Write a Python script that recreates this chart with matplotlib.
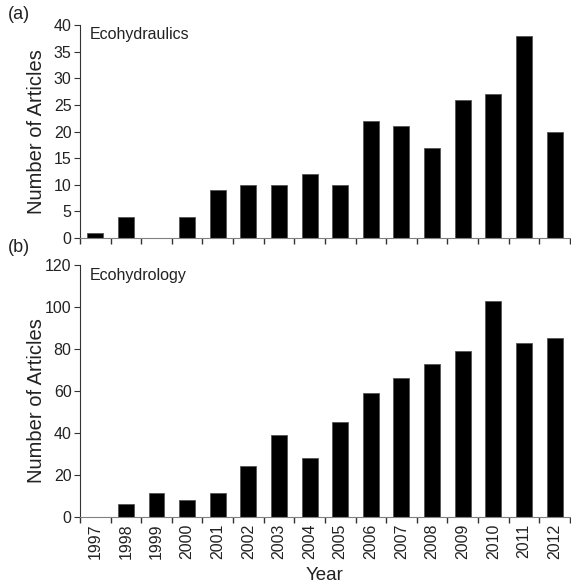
import numpy as np
import matplotlib
matplotlib.use("Agg")
import matplotlib.pyplot as plt

plt.rcParams['font.family'] = ['Liberation Sans', 'DejaVu Sans']

years = [str(y) for y in range(1997, 2013)]
ecohydraulics = [1, 4, 0, 4, 9, 10, 10, 12, 10, 22, 21, 17, 26, 27, 38, 20]
ecohydrology = [0, 6, 11, 8, 11, 24, 39, 28, 45, 59, 66, 73, 79, 103, 83, 85]

fig = plt.figure(figsize=(5.71, 5.85), dpi=100)
ax1 = fig.add_axes([0.140, 0.593, 0.858, 0.364])
ax2 = fig.add_axes([0.140, 0.117, 0.858, 0.430])

x = np.arange(len(years))
axis_grey = '#808080'

def style(ax, vals, ymax, ystep, label):
    ax.bar(x, vals, width=0.52, color='black', edgecolor='#555555', linewidth=0.6)
    ax.set_xlim(-0.5, len(years) - 0.5)
    ax.set_ylim(0, ymax)
    ax.set_yticks(np.arange(0, ymax + 1, ystep))
    ax.set_xticks(np.arange(-0.5, len(years), 1.0))
    ax.set_xticklabels([])
    ax.tick_params(axis='x', direction='out', length=4, color='#333333', width=1)
    ax.tick_params(axis='y', direction='out', length=4, color='#333333', labelsize=11.5,
                   labelcolor='#222222', pad=2)
    for s in ['top', 'right']:
        ax.spines[s].set_visible(False)
    ax.spines['left'].set_color('#333333')
    ax.spines['bottom'].set_color(axis_grey)
    ax.set_ylabel('Number of Articles', fontsize=14.5, color='#222222', labelpad=3)
    ax.text(0.02, 0.99, label, transform=ax.transAxes, fontsize=11.5,
            ha='left', va='top', color='#222222')

style(ax1, ecohydraulics, 40, 5, 'Ecohydraulics')
style(ax2, ecohydrology, 120, 20, 'Ecohydrology')

# year labels centred under each bar
ax2.set_xticks(x, minor=True)
ax2.set_xticklabels(years, minor=True, rotation=90, fontsize=11.5, color='#222222')
ax2.tick_params(axis='x', which='minor', length=0, pad=5)
ax2.set_xlabel('Year', fontsize=13.5, color='#222222', labelpad=6)
ax1.yaxis.set_label_coords(-0.069, 0.5)
ax2.yaxis.set_label_coords(-0.069, 0.46)

fig.text(0.014, 0.967, '(a)', fontsize=13, color='#222222')
fig.text(0.014, 0.570, '(b)', fontsize=13, color='#222222')

fig.savefig('out.png', dpi=100)
